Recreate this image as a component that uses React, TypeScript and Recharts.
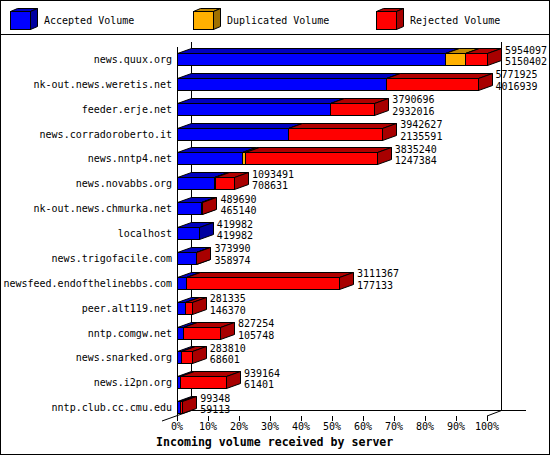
import React from "react";
import { BarChart, Bar, XAxis, YAxis, LabelList, Customized } from "recharts";

const hosts = [
  "news.quux.org",
  "nk-out.news.weretis.net",
  "feeder.erje.net",
  "news.corradoroberto.it",
  "news.nntp4.net",
  "news.novabbs.org",
  "nk-out.news.chmurka.net",
  "localhost",
  "news.trigofacile.com",
  "newsfeed.endofthelinebbs.com",
  "peer.alt119.net",
  "nntp.comgw.net",
  "news.snarked.org",
  "news.i2pn.org",
  "nntp.club.cc.cmu.edu",
];

const totals = [
  5954097, 5771925, 3790696, 3942627, 3835240, 1093491, 489690, 419982, 373990,
  3111367, 281335, 827254, 283810, 939164, 99348,
];
const accepted = [
  5150402, 4016939, 2932016, 2135591, 1247384, 708631, 465140, 419982, 358974,
  177133, 146370, 105748, 68601, 61401, 59113,
];
const duplicated = [390000, 0, 0, 0, 60000, 30000, 0, 0, 0, 0, 0, 0, 0, 0, 0];
const rejected = [
  413695, 1754986, 858680, 1807036, 2527856, 354860, 24550, 0, 15016, 2934234,
  134965, 721506, 215209, 877763, 40235,
];

const tickPercents = [0, 10, 20, 30, 40, 50, 60, 70, 80, 90, 100];

const data = hosts.map((host, i) => ({
  host,
  accepted: accepted[i],
  duplicated: duplicated[i],
  rejected: rejected[i],
}));

const maxTotal = Math.max(...totals);
const xTicks = tickPercents.map((p) => (maxTotal * p) / 100);

const FONT = '"DejaVu Sans Mono", monospace';
const W = 550;
const H = 455;
const LEFT = 177;
const RIGHT = 487;
const TOP = 47;
const BOTTOM = 420;
const DX = 14;
const DY = 5;

const COLORS = {
  accepted: { front: "#0000ff", top: "#0000c0", side: "#0000a0" },
  duplicated: { front: "#ffb000", top: "#c08800", side: "#a07000" },
  rejected: { front: "#ff0000", top: "#b00000", side: "#a80000" },
};

function Box3D({ x, y, width, height, c, dx = DX, dy = DY }: any) {
  if (width == null || width <= 0) return null;
  // snap to pixels so the outlines stay sharp
  const x1 = Math.round(x) + 0.5;
  const y1 = Math.round(y) + 0.5;
  const x2 = Math.round(x + width) + 0.5;
  const y2 = Math.round(y + height) + 0.5;
  return (
    <g stroke="#000" strokeWidth={1}>
      <polygon
        points={`${x1},${y1} ${x1 + dx},${y1 - dy} ${x2 + dx},${y1 - dy} ${x2},${y1}`}
        fill={c.top}
      />
      <polygon
        points={`${x2},${y1} ${x2 + dx},${y1 - dy} ${x2 + dx},${y2 - dy} ${x2},${y2}`}
        fill={c.side}
      />
      <rect x={x1} y={y1} width={Math.max(x2 - x1, 0)} height={y2 - y1} fill={c.front} />
    </g>
  );
}

const legendItems = [
  { name: "Accepted Volume", c: COLORS.accepted, x: 10 },
  { name: "Duplicated Volume", c: COLORS.duplicated, x: 193 },
  { name: "Rejected Volume", c: COLORS.rejected, x: 376 },
];

function Frame() {
  const floorFront = 416;
  const floorBack = 410.5;
  return (
    <g>
      <rect x={0.5} y={0.5} width={W - 1} height={H - 1} fill="#fff" stroke="#000" />
      <line x1={0} y1={34.5} x2={W} y2={34.5} stroke="#000" />
      {legendItems.map((it) => (
        <g key={it.name}>
          <Box3D x={it.x} y={11} width={20} height={18} c={it.c} dx={7} dy={3} />
          <text x={it.x + 34} y={24} fontFamily={FONT} fontSize={10} fill="#000">
            {it.name}
          </text>
        </g>
      ))}
      <line x1={LEFT + DX + 0.5} y1={TOP - DY} x2={LEFT + DX + 0.5} y2={floorBack} stroke="#000" />
      <line x1={RIGHT + DX + 0.5} y1={TOP - DY} x2={RIGHT + DX + 0.5} y2={floorBack} stroke="#000" />
      <line x1={LEFT + DX} y1={floorBack} x2={526} y2={floorBack} stroke="#000" />
      <line x1={LEFT + 0.5} y1={TOP} x2={LEFT + 0.5} y2={floorFront} stroke="#000" />
      <line x1={LEFT - 15} y1={floorFront + 5} x2={LEFT + DX + 0.5} y2={floorBack} stroke="#000" />
      <line x1={RIGHT} y1={floorFront} x2={RIGHT + DX + 0.5} y2={floorBack} stroke="#000" />
      {tickPercents.map((p) => {
        const tx = Math.round(LEFT + ((RIGHT - LEFT) * p) / 100) + 0.5;
        return <line key={p} x1={tx} y1={floorFront} x2={tx} y2={floorFront + 5} stroke="#000" />;
      })}
      <text x={156} y={446} fontFamily={FONT} fontSize={11.6} fontWeight="bold" fill="#000">
        Incoming volume received by server
      </text>
    </g>
  );
}

function Numbers(props: any) {
  const { index } = props;
  const vb = props.viewBox || {};
  const x = props.x ?? vb.x;
  const y = props.y ?? vb.y;
  const width = props.width ?? vb.width ?? 0;
  const tx = x + width + DX + 4;
  return (
    <g fontFamily={FONT} fontSize={10} fill="#000">
      <text x={tx} y={y + 0.5}>{totals[index]}</text>
      <text x={tx} y={y + 12}>{accepted[index]}</text>
    </g>
  );
}

export default function App() {
  return (
    <div style={{ position: "absolute", left: 0, top: 0, width: W, height: H, background: "#fff" }}>
      <BarChart
        width={W}
        height={H}
        data={data}
        layout="vertical"
        barSize={12}
        margin={{ top: TOP, right: W - RIGHT, bottom: 15, left: 0 }}
      >
        <Customized component={Frame} />
        <XAxis
          type="number"
          domain={[0, maxTotal]}
          ticks={xTicks}
          tickFormatter={(v: number) => `${Math.round((v / maxTotal) * 100)}%`}
          axisLine={false}
          tickLine={false}
          tickSize={0}
          tickMargin={3}
          height={H - 15 - BOTTOM}
          interval={0}
          tick={{ fill: "#000", fontSize: 10, fontFamily: FONT }}
        />
        <YAxis
          type="category"
          dataKey="host"
          width={LEFT}
          axisLine={false}
          tickLine={false}
          tickSize={0}
          tickMargin={5}
          interval={0}
          tick={{ fill: "#000", fontSize: 10, fontFamily: FONT }}
        />
        <Bar
          dataKey="accepted"
          stackId="a"
          isAnimationActive={false}
          shape={(p: any) => <Box3D {...p} c={COLORS.accepted} />}
        />
        <Bar
          dataKey="duplicated"
          stackId="a"
          isAnimationActive={false}
          shape={(p: any) => <Box3D {...p} c={COLORS.duplicated} />}
        />
        <Bar
          dataKey="rejected"
          stackId="a"
          isAnimationActive={false}
          shape={(p: any) => <Box3D {...p} c={COLORS.rejected} />}
        >
          <LabelList dataKey="rejected" content={Numbers} />
        </Bar>
      </BarChart>
    </div>
  );
}
